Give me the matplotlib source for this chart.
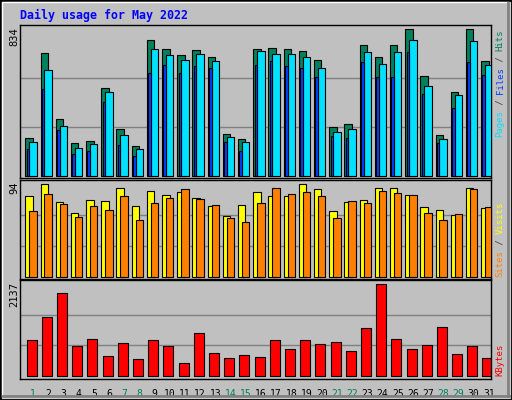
import matplotlib
matplotlib.use("Agg")
import matplotlib.pyplot as plt
from matplotlib.patches import Rectangle
import numpy as np

days = list(range(1, 32))
weekend = [1, 7, 8, 14, 15, 21, 22, 28, 29]
hits = [215,700,326,187,198,498,265,170,771,721,688,715,676,237,209,721,727,721,710,660,276,293,743,676,743,834,565,232,476,834,654]
pages = [193,604,282,159,182,476,232,154,721,688,660,693,654,220,193,710,693,693,676,615,249,265,704,637,704,771,510,209,460,765,632]
files = [154,493,259,126,143,420,176,115,587,632,587,626,615,193,143,632,654,626,610,560,226,215,649,560,560,704,465,187,387,649,571]
visits = [82,94,76,65,78,77,90,72,87,83,86,80,72,62,73,86,82,82,94,89,67,76,78,90,90,83,71,68,63,90,70]
sites = [67,84,74,61,72,68,82,58,75,80,89,79,73,60,56,75,90,84,86,82,60,77,75,87,85,83,65,58,64,89,71]
kbytes = [827,1373,1927,686,850,452,757,382,827,686,289,991,523,406,476,429,827,616,827,733,780,569,1108,2137,850,616,710,1131,499,686,406]
title = "Daily usage for May 2022"

W, H = 512, 400
fig = plt.figure(figsize=(W/100, H/100), dpi=100, facecolor="#C0C0C0")
mono = "DejaVu Sans Mono"

def fx(px): return px / W
def fy(py): return 1 - py / H

fig.patches.append(Rectangle((0, 0), 1, 1, transform=fig.transFigure, fill=False, ec="black", lw=2))
fig.patches.append(Rectangle((fx(2), fy(397)), fx(507), 395/H, transform=fig.transFigure, fill=False, ec="white", lw=1))
fig.lines.append(plt.Line2D([fx(3), fx(509)], [fy(396), fy(396)], transform=fig.transFigure, color="#808080", lw=2))
fig.lines.append(plt.Line2D([fx(508), fx(508)], [fy(396), fy(3)], transform=fig.transFigure, color="#808080", lw=2))

def mkax(top, bot):
    ax = fig.add_axes([fx(20), fy(bot), fx(491) - fx(20), (bot - top) / H])
    ax.set_facecolor("#C0C0C0")
    ax.set_xlim(0, 31)
    ax.set_xticks([]); ax.set_yticks([])
    for s in ax.spines.values():
        s.set_color("black"); s.set_linewidth(1)
    return ax

x = np.arange(31)
ek = dict(edgecolor="black", linewidth=0.8, align="edge")

ax1 = mkax(25, 178)
ax1.set_ylim(-11.3, 856.7)
for g in (834/3, 834*2/3):
    ax1.axhline(g, color="#808080", lw=1, zorder=0)
ax1.bar(x + 0.35, hits, 0.49, color="#00805C", **ek, zorder=2)
ax1.bar(x + 0.61, pages, 0.49, color="#00E0FF", **ek, zorder=3)
ax1.bar(x + 0.44, files, 0.17, color="#0040FF", **ek, zorder=4)

ax2 = mkax(180, 279)
ax2.set_ylim(-2.3, 98.3)
for g in (94/3, 94*2/3):
    ax2.axhline(g, color="#808080", lw=1, zorder=0)
ax2.bar(x + 0.35, visits, 0.49, color="#FFFF00", **ek, zorder=2)
ax2.bar(x + 0.61, sites, 0.49, color="#FF8000", **ek, zorder=3)

ax3 = mkax(280, 379)
ax3.set_ylim(-77, 2237)
for g in (2137/3, 2137*2/3):
    ax3.axhline(g, color="#808080", lw=1, zorder=0)
ax3.bar(x + 0.44, kbytes, 0.66, color="#FF0000", **ek, zorder=2)

for i, d in enumerate(days):
    ax3.text(i + 0.86, -0.1, str(d), transform=ax3.get_xaxis_transform(),
             ha="center", va="top", fontsize=7, family=mono,
             color="#00805C" if d in weekend else "black")

fig.text(fx(20), fy(15), title, ha="left", va="center", fontsize=8.4,
         family=mono, weight="bold", color="#0000FF")

for val, ytop in ((max(hits), 27), (max(visits), 181), (max(kbytes), 282)):
    fig.text(fx(14), fy(ytop), str(val), rotation=90, ha="center", va="top",
             fontsize=7.5, family=mono, color="black")

def vlabel(parts, ybot):
    cw = 5.4
    pos = ybot
    for txt, col in parts:
        fig.text(fx(500), fy(pos), txt, rotation=90, ha="center", va="bottom",
                 fontsize=6.5, family=mono, color=col)
        pos -= cw * len(txt)

vlabel([("Pages", "#00E0FF"), (" / ", "#404040"), ("Files", "#0040FF"),
        (" / ", "#404040"), ("Hits", "#00805C")], 137)
vlabel([("Sites", "#FF8000"), (" / ", "#404040"), ("Visits", "#FFFF00")], 277)
vlabel([("KBytes", "#FF0000")], 376)

fig.savefig("out.png", dpi=100, facecolor=fig.get_facecolor())
